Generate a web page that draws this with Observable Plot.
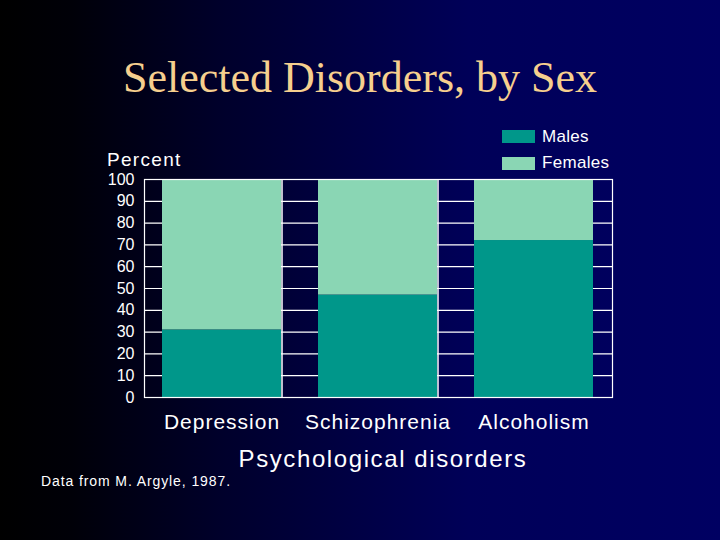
<!DOCTYPE html>
<html>
<head>
<meta charset="utf-8">
<script src="https://cdn.jsdelivr.net/npm/d3@7"></script>
<script src="https://cdn.jsdelivr.net/npm/@observablehq/plot@0.6"></script>
<style>
  html, body { margin: 0; padding: 0; }
  body {
    width: 720px; height: 540px; overflow: hidden;
    background: linear-gradient(to right, #000000 0%, #000008 10%, #00002a 30%, #000045 50%, #000058 65%, #000062 100%);
    font-family: Arial, "Liberation Sans", sans-serif;
    color: #ffffff;
  }
  #wrap { position: relative; width: 720px; height: 540px; }
  #chart { position: absolute; left: 0; top: 0; }
  .abs { position: absolute; white-space: nowrap; line-height: 1; }
  #title { left: 0; width: 720px; top: 56px; text-align: center; font-family: "Liberation Serif", "Times New Roman", serif; font-size: 44px; color: #f6cf8e; }
  #ylabel { left: 107px; top: 150px; font-size: 19px; letter-spacing: 1.3px; }
  #xlabel { left: 0; width: 766px; top: 447px; text-align: center; font-size: 24px; letter-spacing: 1.6px; }
  #caption { left: 41px; top: 474px; font-size: 14px; letter-spacing: 0.9px; }
  .leg { position: absolute; left: 502px; display: flex; align-items: center; }
  .sw { width: 33px; height: 13px; margin-right: 7px; }
  .leg span { font-size: 17px; letter-spacing: 0.3px; }
  g[aria-label="x-axis tick label"] text { letter-spacing: 1px; }
</style>
</head>
<body>
<div id="wrap">
  <div id="chart"></div>
  <div id="title" class="abs">Selected Disorders, by Sex</div>
  <div id="ylabel" class="abs">Percent</div>
  <div id="xlabel" class="abs">Psychological disorders</div>
  <div id="caption" class="abs">Data from M. Argyle, 1987.</div>
  <div id="legend"></div>
</div>
<script>
const categories = ["Depression", "Schizophrenia", "Alcoholism"];
const series = ["Males", "Females"];
const males = [31, 47, 72];
const females = [69, 53, 28];
const yTicks = [0, 10, 20, 30, 40, 50, 60, 70, 80, 90, 100];
const colors = ["#00978a", "#8ad6b4"];

const data = [];
categories.forEach((c, i) => {
  data.push({category: c, sex: "Males", value: males[i]});
  data.push({category: c, sex: "Females", value: females[i]});
});

const chart = Plot.plot({
  width: 720,
  height: 540,
  marginLeft: 144,
  marginRight: 108,
  marginTop: 179,
  marginBottom: 143,
  style: {background: "transparent", color: "#ffffff", fontFamily: "Arial, 'Liberation Sans', sans-serif", overflow: "visible"},
  x: {domain: categories, paddingInner: 0.237, paddingOuter: 0.115, label: null},
  y: {domain: [0, 100], label: null},
  color: {domain: series, range: colors},
  marks: [
    Plot.ruleY(yTicks, {stroke: "#ffffff", strokeWidth: 1.2}),
    Plot.barY(data, Plot.stackY({x: "category", y: "value", fill: "sex", order: series})),
    Plot.ruleX(categories.slice(0, 2), {x: d => d, y1: 0, y2: 100, stroke: "#ffffff", strokeWidth: 1.5, dx: 60}),
    Plot.frame({stroke: "#ffffff", strokeWidth: 1.2}),
    Plot.axisY({ticks: yTicks, tickSize: 0, tickPadding: 10, fontSize: 16, label: null}),
    Plot.axisX({tickSize: 0, tickPadding: 17, fontSize: 21, label: null})
  ]
});
document.getElementById("chart").appendChild(chart);

const legend = document.getElementById("legend");
const legendTops = [126.5, 153];
series.forEach((s, i) => {
  const row = document.createElement("div");
  row.className = "leg";
  row.style.top = legendTops[i] + "px";
  const sw = document.createElement("div");
  sw.className = "sw";
  sw.style.background = colors[i];
  const t = document.createElement("span");
  t.textContent = s;
  row.appendChild(sw);
  row.appendChild(t);
  legend.appendChild(row);
});
</script>
</body>
</html>
